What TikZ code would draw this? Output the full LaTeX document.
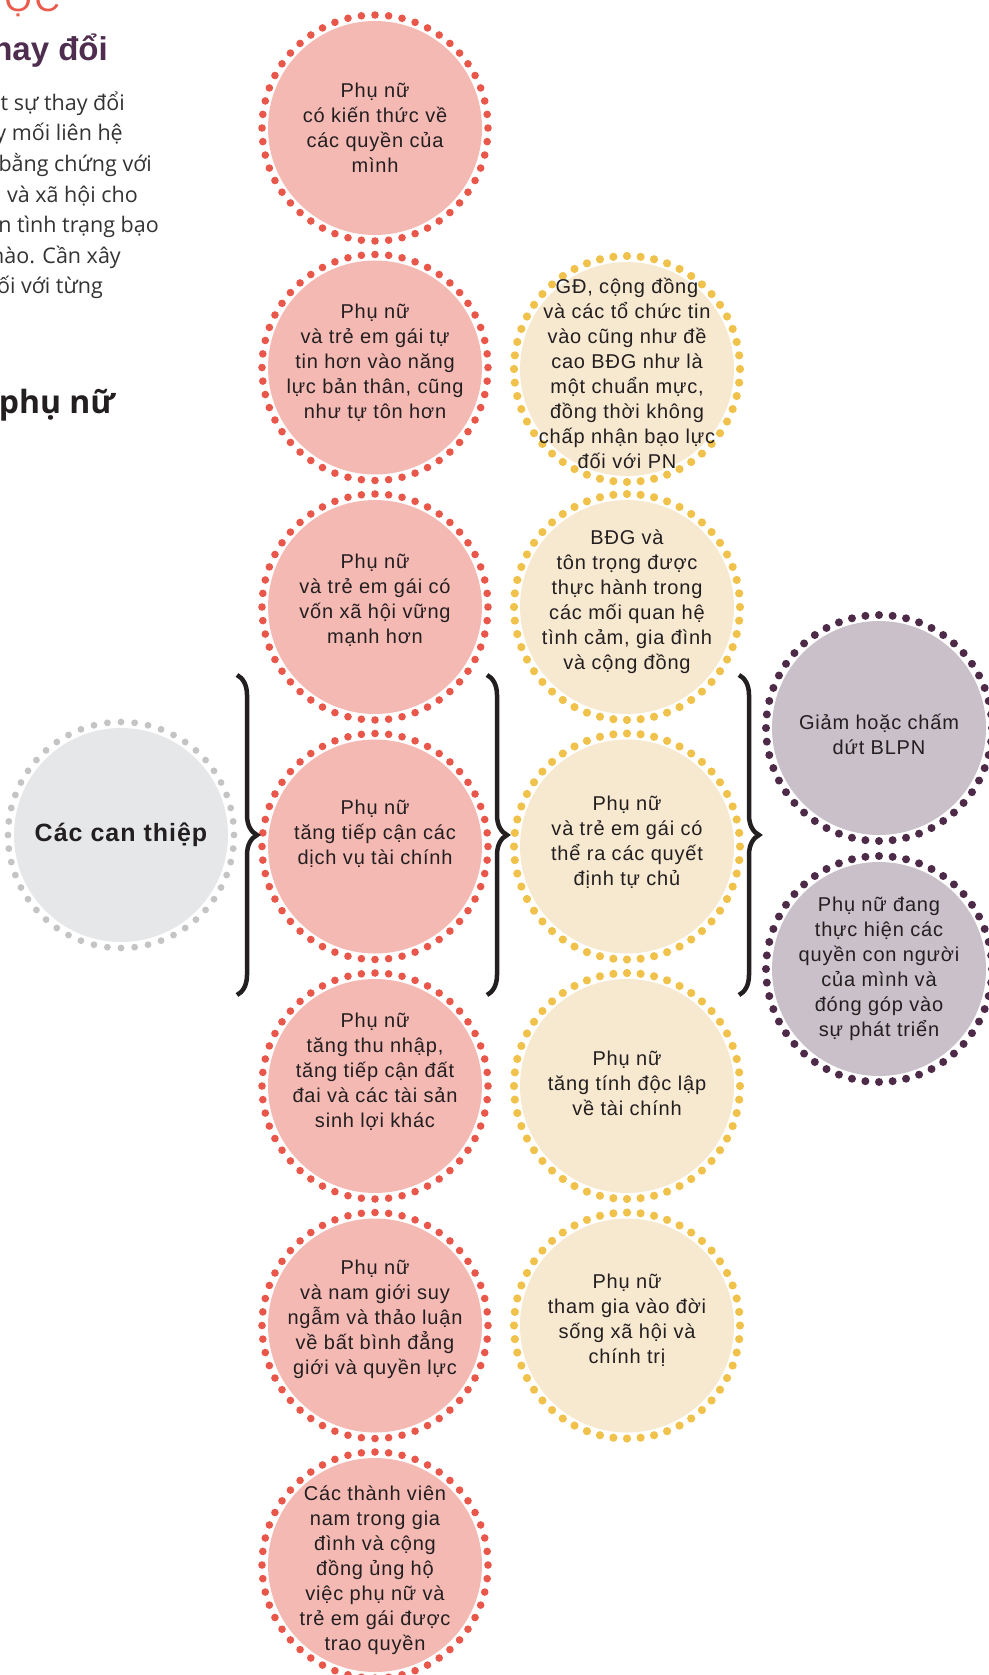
\documentclass[tikz,border=0pt]{standalone}
\usepackage{fontspec}
\setmainfont{Liberation Sans}
\newfontfamily\circfont[LetterSpace=4]{Liberation Sans}
\newfontfamily\bodyfont{Open Sans}
\usetikzlibrary{decorations.pathreplacing}
\definecolor{pinkfill}{HTML}{F5B9B4}
\definecolor{pinkdot}{HTML}{E9574B}
\definecolor{yelfill}{HTML}{F7E8D0}
\definecolor{yeldot}{HTML}{F0C24B}
\definecolor{greyfill}{HTML}{E6E7E8}
\definecolor{greydot}{HTML}{C4C4C4}
\definecolor{purpfill}{HTML}{C9C0C9}
\definecolor{purpdot}{HTML}{4D2A47}
\definecolor{txt}{HTML}{231F20}
\definecolor{headpurple}{HTML}{4E2D4F}
\definecolor{headred}{HTML}{EA5B4C}
\definecolor{bodytxt}{HTML}{333333}
\newcommand\dotring[3]{\foreach \k in {0,...,51}{\fill[#2] (#1.center) ++(6.9230769*\k:113pt) circle[radius=#3];}}
\tikzset{
  bub/.style={circle, minimum size=214pt, inner sep=0pt, draw=none},
  pinkbub/.style={bub, fill=pinkfill},
  yelbub/.style={bub, fill=yelfill},
  greybub/.style={bub, fill=greyfill},
  purpbub/.style={bub, fill=purpfill},
  ctext/.style={align=center, text=txt, inner sep=0pt, font=\circfont\fontsize{20}{25}\selectfont},
  bodytext/.style={anchor=base east, inner sep=0pt, text=bodytxt, font=\bodyfont\fontsize{21.5}{25}\selectfont},
  br/.style={decorate, decoration={brace, amplitude=20pt, aspect=0.5}, line width=4.5pt, draw=txt}
}
\begin{document}
\begin{tikzpicture}[x=1pt,y=-1pt]
\useasboundingbox[fill=white] (0,0) rectangle (988,1675);

% left text
\node[anchor=base east, inner sep=0pt, text=headred, font=\fontsize{35}{40}\selectfont] (h0) at (60,12) {ƯỢC};
\node[anchor=base east, inner sep=0pt, text=headpurple, font=\bfseries\fontsize{33}{38}\selectfont] (h1) at (108,61) {hay đổi};
\node[bodytext] (l1) at (125,111) {t sự thay đổi};
\node[bodytext] (l2) at (123,141) {y mối liên hệ};
\node[bodytext] (l3) at (152,171) {bằng chứng với};
\node[bodytext] (l4) at (138,202) {và xã hội cho};
\node[bodytext] (l5) at (159,232) {n tình trạng bạo};
\node[bodytext] (l6) at (121,263) {nào. Cần xây};
\node[bodytext] (l7) at (103,293) {ối với từng};
\node[anchor=base east, inner sep=0pt, text=txt, font=\bodyfont\bfseries\fontsize{32}{36}\selectfont] (h2) at (115,413) {phụ nữ};

% grey
\node[greybub] (g) at (121,835) {};
\dotring{g}{greydot}{3.4pt}
\node[ctext, font=\circfont\bfseries\fontsize{25}{30}\selectfont] (gt) at (g) {Các can thiệp};

% pink column
\foreach \n/\y in {1/128,2/367.5,3/607,4/846.5,5/1086,6/1325.5,7/1565}{
  \node[pinkbub] (p\n) at (375,\y) {};
  \dotring{p\n}{pinkdot}{3.8pt}
}
\node[ctext] (p1t) at (p1) {Phụ nữ\\có kiến thức về\\các quyền của\\mình};
\node[ctext] (p2t) at ([yshift=5pt]p2.center) {Phụ nữ\\và trẻ em gái tự\\tin hơn vào năng\\lực bản thân, cũng\\như tự tôn hơn};
\node[ctext] (p3t) at ([yshift=7pt]p3.center) {Phụ nữ\\và trẻ em gái có\\vốn xã hội vững\\mạnh hơn};
\node[ctext] (p4t) at ([yshift=13pt]p4.center) {Phụ nữ\\tăng tiếp cận các\\dịch vụ tài chính};
\node[ctext] (p5t) at ([yshift=14pt]p5.center) {Phụ nữ\\tăng thu nhập,\\tăng tiếp cận đất\\đai và các tài sản\\sinh lợi khác};
\node[ctext] (p6t) at ([yshift=6pt]p6.center) {Phụ nữ\\và nam giới suy\\ngẫm và thảo luận\\về bất bình đẳng\\giới và quyền lực};
\node[ctext] (p7t) at ([yshift=-5pt]p7.center) {Các thành viên\\nam trong gia\\đình và cộng\\đồng ủng hộ\\việc phụ nữ và\\trẻ em gái được\\trao quyền};

% yellow column
\foreach \n/\y in {1/369,2/607,3/846.5,4/1086,5/1325.5}{
  \node[yelbub] (y\n) at (627,\y) {};
  \dotring{y\n}{yeldot}{4.1pt}
}
\node[ctext] (y1t) at ([yshift=-4pt]y1.center) {GĐ, cộng đồng\\và các tổ chức tin\\vào cũng như đề\\cao BĐG như là\\một chuẩn mực,\\đồng thời không\\chấp nhận bạo lực\\đối với PN};
\node[ctext] (y2t) at ([yshift=5pt]y2.center) {BĐG và\\tôn trọng được\\thực hành trong\\các mối quan hệ\\tình cảm, gia đình\\và cộng đồng};
\node[ctext] (y3t) at ([yshift=4pt]y3.center) {Phụ nữ\\và trẻ em gái có\\thể ra các quyết\\định tự chủ};
\node[ctext] (y4t) at ([yshift=3pt]y4.center) {Phụ nữ\\tăng tính độc lập\\về tài chính};
\node[ctext] (y5t) at ([yshift=5pt]y5.center) {Phụ nữ\\tham gia vào đời\\sống xã hội và\\chính trị};

% purple column
\node[purpbub] (u1) at (879,728) {};
\dotring{u1}{purpdot}{4pt}
\node[purpbub] (u2) at (879,969) {};
\dotring{u2}{purpdot}{4pt}
\node[ctext] (u1t) at ([yshift=-6pt]u1.center) {Giảm hoặc chấm\\dứt BLPN};
\node[ctext] (u2t) at (u2) {Phụ nữ đang\\thực hiện các\\quyền con người\\của mình và\\đóng góp vào\\sự phát triển};

% braces
\coordinate (b1t) at (237,675); \coordinate (b1b) at (237,995);
\coordinate (b2t) at (487,675); \coordinate (b2b) at (487,995);
\coordinate (b3t) at (739,675); \coordinate (b3b) at (739,995);
\draw[br] (b1t) -- (b1b);
\draw[br] (b2t) -- (b2b);
\draw[br] (b3t) -- (b3b);
\end{tikzpicture}
\end{document}
